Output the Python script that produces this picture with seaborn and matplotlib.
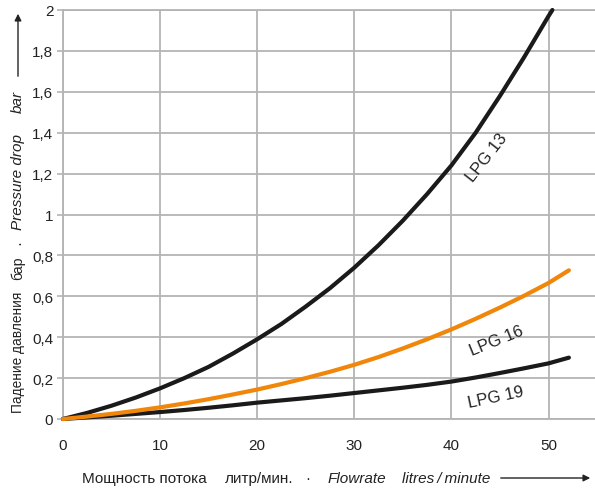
import matplotlib
matplotlib.use("Agg")
import matplotlib.pyplot as plt
import seaborn as sns
import pandas as pd

# flowrate, litres / minute -> pressure drop, bar
flow_13 = [0, 2.5, 5, 7.5, 10, 12.5, 15, 17.5, 20, 22.5, 25, 27.5, 30, 32.5,
           35, 37.5, 40, 42.5, 45, 47.5, 50, 50.4]
drop_13 = [0, 0.03, 0.065, 0.105, 0.15, 0.2, 0.255, 0.32, 0.39, 0.465, 0.55, 0.64,
           0.74, 0.85, 0.97, 1.10, 1.24, 1.40, 1.58, 1.77, 1.97, 2.0]

flow_16 = [0, 2.5, 5, 7.5, 10, 12.5, 15, 17.5, 20, 22.5, 25, 27.5, 30, 32.5,
           35, 37.5, 40, 42.5, 45, 47.5, 50, 52.1]
drop_16 = [0, 0.012, 0.025, 0.04, 0.057, 0.076, 0.097, 0.12, 0.144, 0.171, 0.20,
           0.231, 0.265, 0.303, 0.345, 0.39, 0.438, 0.49, 0.545, 0.603, 0.665, 0.727]

flow_19 = [0, 2.5, 5, 7.5, 10, 12.5, 15, 17.5, 20, 22.5, 25, 27.5, 30, 32.5,
           35, 37.5, 40, 42.5, 45, 47.5, 50, 52.1]
drop_19 = [0, 0.008, 0.016, 0.025, 0.034, 0.044, 0.055, 0.067, 0.08, 0.091, 0.102,
           0.114, 0.127, 0.14, 0.153, 0.167, 0.183, 0.203, 0.225, 0.248, 0.272, 0.30]

x_ticks = [0, 10, 20, 30, 40, 50]
y_ticks = [0, 0.2, 0.4, 0.6, 0.8, 1, 1.2, 1.4, 1.6, 1.8, 2]
y_labels = ["0", "0,2", "0,4", "0,6", "0,8", "1", "1,2", "1,4", "1,6", "1,8", "2"]

sns.set_style("white")
plt.rcParams["font.family"] = ["Liberation Sans", "DejaVu Sans"]

grid_col = "#b4b4b4"
black = "#1a1a1a"
orange = "#f0860a"
tc = "#222222"

fig = plt.figure(figsize=(5.95, 4.89), dpi=100)
ax = fig.add_axes([63 / 595, 69 / 489, 532 / 595, 409 / 489])

series = [
    (flow_13, drop_13, black),
    (flow_19, drop_19, black),
    (flow_16, drop_16, orange),
]
for fx, fy, col in series:
    df = pd.DataFrame({"flow": fx, "drop": fy})
    sns.lineplot(data=df, x="flow", y="drop", ax=ax, color=col, linewidth=3,
                 solid_capstyle="round", solid_joinstyle="round",
                 clip_on=False, zorder=3)

ax.set_xlim(0, 532 / 9.71)
ax.set_ylim(0, 2)
ax.set_xticks(x_ticks)
ax.set_yticks(y_ticks)
ax.set_yticklabels(y_labels)
ax.set_xlabel("")
ax.set_ylabel("")
ax.grid(True, color=grid_col, linewidth=1.3)
ax.set_axisbelow(True)
for side in ["left", "bottom", "top"]:
    ax.spines[side].set_visible(True)
    ax.spines[side].set_color(grid_col)
    ax.spines[side].set_linewidth(1.3)
ax.spines["right"].set_visible(False)
ax.tick_params(axis="y", length=4, width=1.2, color=grid_col, pad=3,
               labelsize=11, labelcolor=tc, left=True)
ax.tick_params(axis="x", length=0, pad=14, labelsize=11, labelcolor=tc)

# curve labels
ax.text(43.7, 1.28, "LPG 13", rotation=52, fontsize=12, ha="center", va="center", color=tc)
ax.text(44.6, 0.385, "LPG 16", rotation=22, fontsize=12, ha="center", va="center", color=tc)
ax.text(44.6, 0.11, "LPG 19", rotation=12, fontsize=12, ha="center", va="center", color=tc)

W, H = 595, 489
fs = 11

# x axis label
xy_lab = 1 - 479 / H
fig.text(82 / W, xy_lab, "Мощность потока", fontsize=fs, va="center", color=tc)
fig.text(225 / W, xy_lab, "литр/мин.", fontsize=fs, va="center", color=tc)
fig.text(308 / W, xy_lab, "·", fontsize=fs, va="center", ha="center", color=tc)
fig.text(328 / W, xy_lab, "Flowrate", fontsize=fs, va="center", style="italic", color=tc)
fig.text(402 / W, xy_lab, "litres\u2009/\u2009minute", fontsize=fs, va="center",
         style="italic", color=tc)
fig.patches.append(matplotlib.patches.FancyArrowPatch(
    (498 / W, xy_lab), (593 / W, xy_lab), transform=fig.transFigure,
    arrowstyle="-|>", mutation_scale=10, color=tc, linewidth=1))

# y axis label
yx = 18 / W
fig.text(yx, 1 - 413 / H, "Падение давления", rotation=90, fontsize=9.8,
         ha="center", va="bottom", color=tc)
fig.text(yx, 1 - 280 / H, "бар", rotation=90, fontsize=10.2, ha="center", va="bottom", color=tc)
fig.text(yx + 1 / W, 1 - 243 / H, "·", rotation=90, fontsize=fs, ha="center", va="center", color=tc)
fig.text(yx, 1 - 230 / H, "Pressure drop", rotation=90, fontsize=fs,
         ha="center", va="bottom", style="italic", color=tc)
fig.text(yx, 1 - 113 / H, "bar", rotation=90, fontsize=fs, ha="center", va="bottom",
         style="italic", color=tc)
fig.patches.append(matplotlib.patches.FancyArrowPatch(
    (yx, 1 - 80 / H), (yx, 1 - 12 / H), transform=fig.transFigure,
    arrowstyle="-|>", mutation_scale=10, color=tc, linewidth=1))

fig.savefig("out.png", dpi=100)
